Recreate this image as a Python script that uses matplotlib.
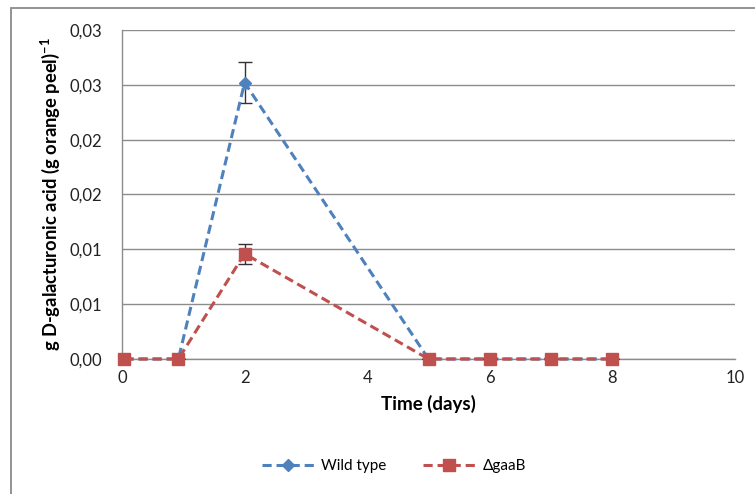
import matplotlib
matplotlib.use("Agg")
import matplotlib.pyplot as plt
from matplotlib.patches import Rectangle
from matplotlib.lines import Line2D

plt.rcParams['font.family'] = ['Lato', 'DejaVu Sans']
plt.rcParams['mathtext.default'] = 'regular'

# Sampling times (days) and measured D-galacturonic acid
time_days = [0.04, 0.92, 2, 5, 6, 7, 8]
wild_type = [0.0, 0.0, 0.0252, 0.0, 0.0, 0.0, 0.0]
wild_type_err = [0.0, 0.0, 0.0019, 0.0, 0.0, 0.0, 0.0]
gaab = [0.0, 0.0, 0.0096, 0.0, 0.0, 0.0, 0.0]
gaab_err = [0.0, 0.0, 0.00093, 0.0, 0.0, 0.0, 0.0]

y_ticks = [0.0, 0.005, 0.01, 0.015, 0.02, 0.025, 0.03]
y_tick_labels = ["0,00", "0,01", "0,01", "0,02", "0,02", "0,03", "0,03"]
x_ticks = [0, 2, 4, 6, 8, 10]

BLUE = "#4F81BD"
RED = "#C0504D"
GRID = "#8C8C8C"
DASH = (0, (3, 1.6))

fig = plt.figure(figsize=(7.55, 4.94), dpi=100)
W, H = 755, 494
ax = fig.add_axes([122 / W, 1 - 359 / H, (735 - 122) / W, (359 - 30) / H])

# outer chart frame
fig.patches.append(Rectangle((11 / W, -0.05), 1.0, 1 - 8 / H + 0.05,
                             transform=fig.transFigure, fill=False,
                             edgecolor="#8A8A8A", linewidth=1.3))

series = [
    ("Wild type", wild_type, wild_type_err, BLUE, "D", 6.5, 3),
    ("ΔgaaB", gaab, gaab_err, RED, "s", 9, 4),
]
handles = []
for label, vals, errs, color, marker, ms, z in series:
    eb = ax.errorbar(time_days, vals, yerr=errs, color=color, linestyle=DASH,
                     linewidth=2.2, marker=marker, markersize=ms,
                     ecolor="#333333", elinewidth=1, capsize=5, capthick=1,
                     zorder=z)
    eb.lines[0].set_clip_on(False)
    handles.append(Line2D([], [], color=color, linestyle=DASH, linewidth=2.2,
                          marker=marker, markersize=ms, label=label))

ax.set_xlim(0, 10)
ax.set_ylim(0, 0.03)
ax.set_yticks(y_ticks)
ax.set_yticklabels(y_tick_labels)
ax.set_xticks(x_ticks)
ax.tick_params(axis="both", length=0, labelsize=12, colors="#222222", pad=8)
ax.tick_params(axis="y", pad=14)

ax.grid(axis="y", color=GRID, linewidth=1)
ax.set_axisbelow(True)
for side in ("top", "right"):
    ax.spines[side].set_visible(False)
for side in ("left", "bottom"):
    ax.spines[side].set_color(GRID)
    ax.spines[side].set_linewidth(1)

ax.set_xlabel("Time (days)", fontsize=13.5, fontweight="bold", labelpad=6)
ax.set_ylabel("g D-galacturonic acid (g orange peel)$^{-1}$", fontsize=13.2,
              fontweight="bold", labelpad=6)

fig.legend(handles=handles, loc="center", bbox_to_anchor=(394 / W, 1 - 466 / H),
           ncol=2, frameon=False, fontsize=11, handlelength=3.4,
           handletextpad=0.5, columnspacing=2.4)

fig.savefig("out.png", dpi=100)
